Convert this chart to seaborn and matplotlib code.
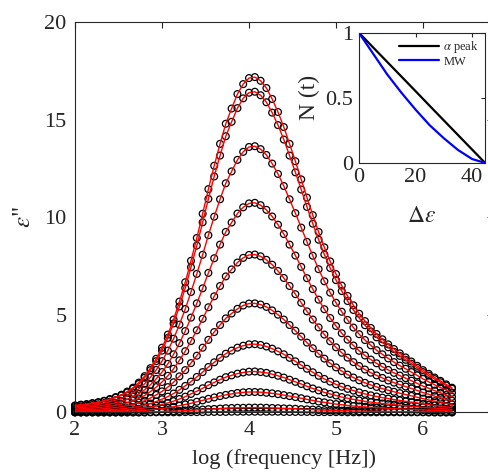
import numpy as np
import pandas as pd
import matplotlib
matplotlib.use('Agg')
import matplotlib.pyplot as plt
import seaborn as sns

sns.set_style('white')
plt.rcParams['font.family'] = ['Liberation Serif', 'DejaVu Serif']
plt.rcParams['mathtext.fontset'] = 'stix'

# frequency sweep, 15 points per decade from 10^2 to ~10^6.33 Hz
log_f = np.round(np.linspace(2.0, 6.333, 66), 3)

# dielectric loss spectra (largest peak first)
eps_01 = [0.36, 0.40, 0.43, 0.48, 0.53, 0.60, 0.69, 0.79, 0.91, 1.07,
          1.27, 1.53, 1.86, 2.27, 2.75, 3.32, 3.99, 4.76, 5.68, 6.67,
          7.77, 8.94, 10.18, 11.44, 12.64, 13.76, 14.79, 15.57, 16.31, 16.82,
          17.13, 17.18, 16.99, 16.62, 16.06, 15.39, 14.62, 13.76, 12.87, 11.94,
          11.01, 10.11, 9.25, 8.46, 7.74, 7.09, 6.50, 5.97, 5.49, 5.06,
          4.68, 4.33, 4.02, 3.75, 3.49, 3.25, 3.03, 2.82, 2.61, 2.39,
          2.17, 1.98, 1.79, 1.62, 1.44, 1.27]
eps_02 = [0.35, 0.38, 0.41, 0.46, 0.51, 0.58, 0.66, 0.76, 0.87, 1.02,
          1.22, 1.46, 1.78, 2.17, 2.63, 3.17, 3.82, 4.56, 5.43, 6.38,
          7.44, 8.55, 9.74, 10.94, 12.09, 13.16, 14.15, 14.89, 15.59, 16.09,
          16.38, 16.43, 16.25, 15.89, 15.36, 14.72, 13.98, 13.16, 12.30, 11.42,
          10.53, 9.67, 8.85, 8.09, 7.40, 6.78, 6.22, 5.71, 5.25, 4.84,
          4.47, 4.15, 3.85, 3.59, 3.34, 3.11, 2.90, 2.70, 2.50, 2.29,
          2.07, 1.89, 1.71, 1.55, 1.38, 1.22]
eps_03 = [0.29, 0.31, 0.34, 0.38, 0.42, 0.48, 0.55, 0.63, 0.72, 0.85,
          1.01, 1.21, 1.47, 1.80, 2.18, 2.63, 3.17, 3.78, 4.50, 5.30,
          6.17, 7.10, 8.08, 9.08, 10.03, 10.92, 11.74, 12.35, 12.94, 13.35,
          13.60, 13.64, 13.49, 13.19, 12.75, 12.22, 11.60, 10.92, 10.21, 9.47,
          8.74, 8.03, 7.34, 6.72, 6.14, 5.62, 5.16, 4.74, 4.35, 4.01,
          3.71, 3.44, 3.19, 2.98, 2.77, 2.58, 2.40, 2.24, 2.07, 1.90,
          1.72, 1.57, 1.42, 1.28, 1.15, 1.01]
eps_04 = [0.23, 0.25, 0.27, 0.30, 0.33, 0.38, 0.43, 0.49, 0.57, 0.67,
          0.80, 0.96, 1.16, 1.42, 1.72, 2.07, 2.49, 2.98, 3.55, 4.17,
          4.86, 5.59, 6.36, 7.15, 7.90, 8.60, 9.25, 9.73, 10.19, 10.51,
          10.71, 10.74, 10.62, 10.38, 10.04, 9.62, 9.14, 8.60, 8.04, 7.46,
          6.88, 6.32, 5.78, 5.29, 4.84, 4.43, 4.06, 3.73, 3.43, 3.16,
          2.92, 2.71, 2.52, 2.34, 2.18, 2.03, 1.89, 1.76, 1.63, 1.49,
          1.35, 1.24, 1.12, 1.01, 0.90, 0.80]
eps_05 = [0.17, 0.19, 0.20, 0.23, 0.25, 0.28, 0.32, 0.37, 0.43, 0.50,
          0.60, 0.72, 0.87, 1.07, 1.30, 1.56, 1.88, 2.24, 2.67, 3.14,
          3.66, 4.21, 4.80, 5.39, 5.95, 6.48, 6.97, 7.33, 7.68, 7.92,
          8.07, 8.09, 8.00, 7.82, 7.57, 7.25, 6.89, 6.48, 6.06, 5.62,
          5.18, 4.76, 4.36, 3.99, 3.65, 3.34, 3.06, 2.81, 2.58, 2.38,
          2.20, 2.04, 1.90, 1.77, 1.64, 1.53, 1.43, 1.33, 1.23, 1.13,
          1.02, 0.93, 0.84, 0.76, 0.68, 0.60]
eps_06 = [0.12, 0.13, 0.14, 0.16, 0.17, 0.20, 0.22, 0.26, 0.30, 0.35,
          0.41, 0.50, 0.60, 0.74, 0.90, 1.08, 1.30, 1.55, 1.85, 2.17,
          2.53, 2.91, 3.32, 3.72, 4.12, 4.48, 4.82, 5.07, 5.31, 5.48,
          5.58, 5.59, 5.53, 5.41, 5.23, 5.01, 4.76, 4.48, 4.19, 3.89,
          3.58, 3.29, 3.01, 2.76, 2.52, 2.31, 2.12, 1.94, 1.79, 1.65,
          1.52, 1.41, 1.31, 1.22, 1.14, 1.06, 0.99, 0.92, 0.85, 0.78,
          0.71, 0.64, 0.58, 0.53, 0.47, 0.41]
eps_07 = [0.07, 0.08, 0.09, 0.10, 0.11, 0.12, 0.14, 0.16, 0.19, 0.22,
          0.26, 0.31, 0.38, 0.46, 0.56, 0.68, 0.81, 0.97, 1.16, 1.36,
          1.58, 1.82, 2.07, 2.33, 2.57, 2.80, 3.01, 3.17, 3.32, 3.42,
          3.49, 3.50, 3.46, 3.38, 3.27, 3.13, 2.98, 2.80, 2.62, 2.43,
          2.24, 2.06, 1.88, 1.72, 1.58, 1.44, 1.32, 1.21, 1.12, 1.03,
          0.95, 0.88, 0.82, 0.76, 0.71, 0.66, 0.62, 0.57, 0.53, 0.49,
          0.44, 0.40, 0.36, 0.33, 0.29, 0.26]
eps_08 = [0.04, 0.05, 0.05, 0.06, 0.07, 0.07, 0.08, 0.10, 0.11, 0.13,
          0.16, 0.19, 0.23, 0.28, 0.34, 0.41, 0.49, 0.58, 0.69, 0.81,
          0.95, 1.09, 1.24, 1.40, 1.54, 1.68, 1.81, 1.90, 1.99, 2.05,
          2.09, 2.10, 2.07, 2.03, 1.96, 1.88, 1.79, 1.68, 1.57, 1.46,
          1.34, 1.23, 1.13, 1.03, 0.95, 0.87, 0.79, 0.73, 0.67, 0.62,
          0.57, 0.53, 0.49, 0.46, 0.43, 0.40, 0.37, 0.34, 0.32, 0.29,
          0.26, 0.24, 0.22, 0.20, 0.18, 0.16]
eps_09 = [0.02, 0.02, 0.03, 0.03, 0.03, 0.04, 0.04, 0.05, 0.06, 0.07,
          0.08, 0.09, 0.11, 0.14, 0.17, 0.20, 0.24, 0.29, 0.35, 0.41,
          0.47, 0.55, 0.62, 0.70, 0.77, 0.84, 0.90, 0.95, 1.00, 1.03,
          1.05, 1.05, 1.04, 1.01, 0.98, 0.94, 0.89, 0.84, 0.79, 0.73,
          0.67, 0.62, 0.56, 0.52, 0.47, 0.43, 0.40, 0.36, 0.33, 0.31,
          0.29, 0.26, 0.25, 0.23, 0.21, 0.20, 0.18, 0.17, 0.16, 0.15,
          0.13, 0.12, 0.11, 0.10, 0.09, 0.08]
eps_10 = [0.01, 0.01, 0.01, 0.01, 0.01, 0.01, 0.01, 0.01, 0.01, 0.02,
          0.02, 0.02, 0.03, 0.03, 0.04, 0.05, 0.06, 0.07, 0.08, 0.10,
          0.11, 0.13, 0.15, 0.17, 0.18, 0.20, 0.22, 0.23, 0.24, 0.24,
          0.25, 0.25, 0.25, 0.24, 0.23, 0.22, 0.21, 0.20, 0.19, 0.17,
          0.16, 0.15, 0.13, 0.12, 0.11, 0.10, 0.09, 0.09, 0.08, 0.07,
          0.07, 0.06, 0.06, 0.05, 0.05, 0.05, 0.04, 0.04, 0.04, 0.03,
          0.03, 0.03, 0.03, 0.02, 0.02, 0.02]
eps_11 = [0.00, 0.00, 0.00, 0.00, 0.00, 0.00, 0.00, 0.00, 0.00, 0.00,
          0.00, 0.00, 0.00, 0.01, 0.01, 0.01, 0.01, 0.01, 0.01, 0.02,
          0.02, 0.02, 0.02, 0.03, 0.03, 0.03, 0.03, 0.04, 0.04, 0.04,
          0.04, 0.04, 0.04, 0.04, 0.04, 0.04, 0.03, 0.03, 0.03, 0.03,
          0.03, 0.02, 0.02, 0.02, 0.02, 0.02, 0.02, 0.01, 0.01, 0.01,
          0.01, 0.01, 0.01, 0.01, 0.01, 0.01, 0.01, 0.01, 0.01, 0.01,
          0.01, 0.00, 0.00, 0.00, 0.00, 0.00]
curves = [eps_01, eps_02, eps_03, eps_04, eps_05, eps_06,
          eps_07, eps_08, eps_09, eps_10, eps_11]

# inset: normalised relaxation vs delta epsilon
delta_eps = [0, 5, 10, 15, 20, 25, 30, 35, 40, 44.6]
n_alpha = [1.0, 0.888, 0.776, 0.664, 0.552, 0.439, 0.327, 0.215, 0.103, 0.0]
n_mw = [1.0, 0.84, 0.68, 0.54, 0.41, 0.29, 0.19, 0.10, 0.03, 0.0]

df = pd.concat([pd.DataFrame({'logf': log_f, 'eps': c, 'curve': i})
                for i, c in enumerate(curves)], ignore_index=True)
inset_df = pd.concat([
    pd.DataFrame({'de': delta_eps, 'N': n_alpha, 'kind': r'$\alpha$ peak'}),
    pd.DataFrame({'de': delta_eps, 'N': n_mw, 'kind': 'MW'})], ignore_index=True)

axcol = '#262626'
fig = plt.figure(figsize=(4.89, 4.75), dpi=100)
ax = fig.add_axes([0.1534, 0.1316, 0.854, 0.822])

sns.scatterplot(data=df, x='logf', y='eps', marker='o', s=24,
                facecolor='none', edgecolor='black', linewidth=0.9,
                ax=ax, zorder=2, clip_on=False, legend=False)
sns.lineplot(data=df, x='logf', y='eps', units='curve', estimator=None,
             color='red', linewidth=1.0, ax=ax, zorder=3, legend=False)

ax.set_xlim(2, 6.8)
ax.set_ylim(0, 20)
ax.set_xticks([2, 3, 4, 5, 6])
ax.set_yticks([0, 5, 10, 15, 20])
ax.tick_params(direction='in', length=4, width=0.8, color=axcol,
               labelsize=16, pad=6, top=True, right=True)
for s in ax.spines.values():
    s.set_color(axcol)
    s.set_linewidth(0.8)
ax.set_xlabel('log (frequency [Hz])', fontsize=16)
ax.set_ylabel(r'$\epsilon$"', fontsize=18, rotation=90)
ax.xaxis.set_label_coords(0.5, -0.095)
ax.yaxis.set_label_coords(-0.095, 0.5)

ins = fig.add_axes([0.734, 0.657, 0.258, 0.274])
sns.lineplot(data=inset_df, x='de', y='N', hue='kind',
             palette=['black', 'blue'], linewidth=1.6, ax=ins)
ins.set_xlim(0, 44.6)
ins.set_ylim(0, 1)
ins.set_xticks([0, 20, 40])
ins.set_yticks([0, 0.5, 1])
ins.set_yticklabels(['0', '0.5', '1'])
ins.tick_params(direction='in', length=3, width=0.8, color=axcol,
                labelsize=16, pad=4, top=True, right=True)
for s in ins.spines.values():
    s.set_color(axcol)
    s.set_linewidth(0.8)
ins.set_xlabel(r'$\Delta\epsilon$', fontsize=17)
ins.set_ylabel('N (t)', fontsize=17)
ins.xaxis.set_label_coords(0.5, -0.33)
ins.yaxis.set_label_coords(-0.31, 0.5)
ins.legend(title=None, frameon=False, fontsize=9, loc='upper right',
           handlelength=3.2, borderaxespad=0.2, labelspacing=0.05,
           handletextpad=0.3, borderpad=0.3)

fig.savefig('out.png', dpi=100)
